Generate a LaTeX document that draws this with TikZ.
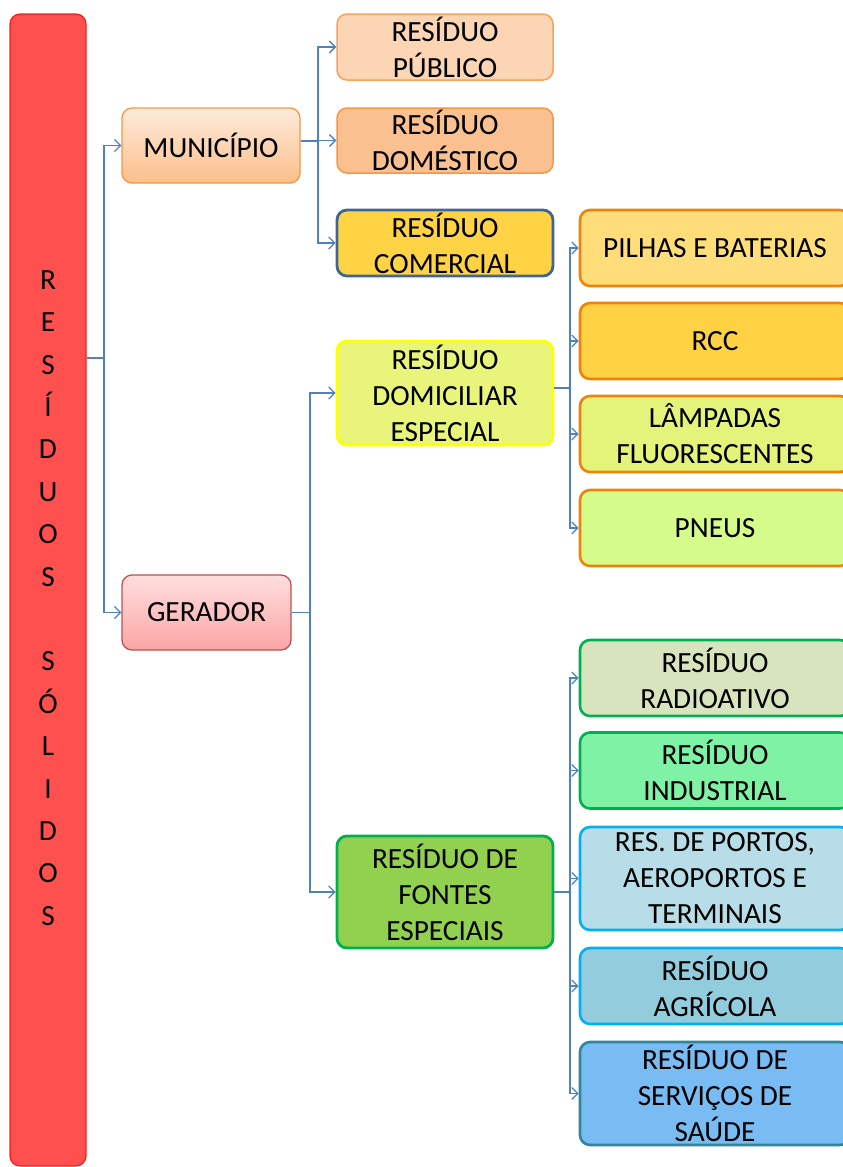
\documentclass[tikz,border=0pt]{standalone}
\usepackage{fontspec}
\setmainfont{Carlito}
\usetikzlibrary{arrows.meta}
\definecolor{cbar}{HTML}{FF5050}
\definecolor{cbarb}{HTML}{FF1A1A}
\definecolor{cline}{HTML}{4F81BD}
\definecolor{orb}{HTML}{F79646}
\definecolor{orb2}{HTML}{F0820A}
\definecolor{grb}{HTML}{00B050}
\definecolor{blb}{HTML}{00B0F0}
\definecolor{munt}{HTML}{FDEBDC}
\definecolor{munb}{HTML}{FBBF8A}
\definecolor{gert}{HTML}{FFDEDE}
\definecolor{gerb}{HTML}{FAA6A6}
\definecolor{gerd}{HTML}{C0504D}
\definecolor{pubf}{HTML}{FCD5B4}
\definecolor{pubd}{HTML}{F8A25A}
\definecolor{domf}{HTML}{FAC090}
\definecolor{comf}{HTML}{FFD344}
\definecolor{comd}{HTML}{3F6597}
\definecolor{dcef}{HTML}{E8F57A}
\definecolor{dced}{HTML}{FFFF00}
\definecolor{fonf}{HTML}{92D050}
\definecolor{pilf}{HTML}{FFDE7A}
\definecolor{rccf}{HTML}{FFD243}
\definecolor{lamf}{HTML}{E4F37A}
\definecolor{pnef}{HTML}{D5FC8A}
\definecolor{radf}{HTML}{D7E4BD}
\definecolor{indf}{HTML}{7FF2A6}
\definecolor{porf}{HTML}{B7DEE8}
\definecolor{agrf}{HTML}{93CDDD}
\definecolor{sauf}{HTML}{79BCF4}
\definecolor{saud}{HTML}{31859C}
\begin{document}
\begin{tikzpicture}[x=1pt,y=-1pt,
  box/.style={draw, rounded corners=10pt, align=center, inner sep=0pt,
    font=\fontsize{29.3}{36}\selectfont, text=black},
  lbox/.style={box, minimum width=216pt},
  rbox/.style={box, minimum width=270pt, line width=2.6pt, minimum height=76pt},
  conn/.style={draw=cline, line width=1.3pt},
  arr/.style={conn, -{Straight Barb[length=6pt,width=12pt]}}]
\useasboundingbox (0,0) rectangle (843,1167);
% main bar
\node[box, fill=cbar, draw=cbarb, line width=1.2pt, minimum width=76pt, minimum height=1152pt,
  label={[align=center, inner sep=0pt, yshift=-8pt, font=\fontsize{29.3}{42.4}\selectfont]center:R\\E\\S\\Í\\D\\U\\O\\S\\[42.4pt]S\\Ó\\L\\I\\D\\O\\S}]
  (bar) at (48,590) {};
% level 1
\node[box, draw=orb, line width=1.3pt, top color=munt, bottom color=munb,
  minimum width=178pt, minimum height=75pt] (mun) at (211,145.5) {MUNICÍPIO};
\node[box, draw=gerd, line width=1.3pt, top color=gert, bottom color=gerb,
  minimum width=169pt, minimum height=75pt] (ger) at (206.5,612.5) {GERADOR};
% level 2
\node[lbox, fill=pubf, draw=pubd, line width=1.5pt, minimum height=66pt] (pub) at (445,47) {RESÍDUO\\PÚBLICO};
\node[lbox, fill=domf, draw=orb, line width=1.5pt, minimum height=65pt] (dom) at (445,140.5) {RESÍDUO\\DOMÉSTICO};
\node[lbox, fill=comf, draw=comd, line width=2.8pt, minimum height=66pt] (com) at (445,243) {RESÍDUO\\COMERCIAL};
\node[lbox, fill=dcef, draw=dced, line width=2.8pt, minimum height=104pt] (dce) at (445,393) {RESÍDUO\\DOMICILIAR\\ESPECIAL};
\node[lbox, fill=fonf, draw=grb, line width=2.8pt, minimum height=112pt] (fon) at (445,892) {RESÍDUO DE\\FONTES\\ESPECIAIS};
% level 3
\node[rbox, fill=pilf, draw=orb2] (pil) at (715,248) {PILHAS E BATERIAS};
\node[rbox, fill=rccf, draw=orb2] (rcc) at (715,341) {RCC};
\node[rbox, fill=lamf, draw=orb2] (lam) at (715,434) {LÂMPADAS\\FLUORESCENTES};
\node[rbox, fill=pnef, draw=orb2] (pne) at (715,528) {PNEUS};
\node[rbox, fill=radf, draw=grb] (rad) at (715,678) {RESÍDUO\\RADIOATIVO};
\node[rbox, fill=indf, draw=grb] (ind) at (715,770.5) {RESÍDUO\\INDUSTRIAL};
\node[rbox, fill=porf, draw=blb, minimum height=103pt] (por) at (715,878.5) {RES. DE PORTOS,\\AEROPORTOS E\\TERMINAIS};
\node[rbox, fill=agrf, draw=blb] (agr) at (715,986) {RESÍDUO\\AGRÍCOLA};
\node[rbox, fill=sauf, draw=saud, minimum height=103pt] (sau) at (715,1093.5) {RESÍDUO DE\\SERVIÇOS DE\\SAÚDE};
% junctions
\coordinate (j1) at (104,358);
\coordinate (j2) at (318,141);
\coordinate (j3) at (310,612.5);
\coordinate (j4) at (570,388);
\coordinate (j5) at (570,892);
% connectors
\draw[conn] (bar.east |- j1) -- (j1);
\draw[arr] (j1) |- (mun.west);
\draw[arr] (j1) |- (ger.west);
\draw[conn] (mun.east |- j2) -- (j2);
\draw[arr] (j2) |- (pub.west);
\draw[arr] (j2) |- (dom.west);
\draw[arr] (j2) |- (com.west);
\draw[conn] (ger.east) -- (j3);
\draw[arr] (j3) |- (dce.west);
\draw[arr] (j3) |- (fon.west);
\draw[conn] (dce.east |- j4) -- (j4);
\draw[arr] (j4) |- (pil.west);
\draw[arr] (j4) |- (rcc.west);
\draw[arr] (j4) |- (lam.west);
\draw[arr] (j4) |- (pne.west);
\draw[conn] (fon.east |- j5) -- (j5);
\draw[arr] (j5) |- (rad.west);
\draw[arr] (j5) |- (ind.west);
\draw[arr] (j5) |- (por.west);
\draw[arr] (j5) |- (agr.west);
\draw[arr] (j5) |- (sau.west);
\end{tikzpicture}
\end{document}
